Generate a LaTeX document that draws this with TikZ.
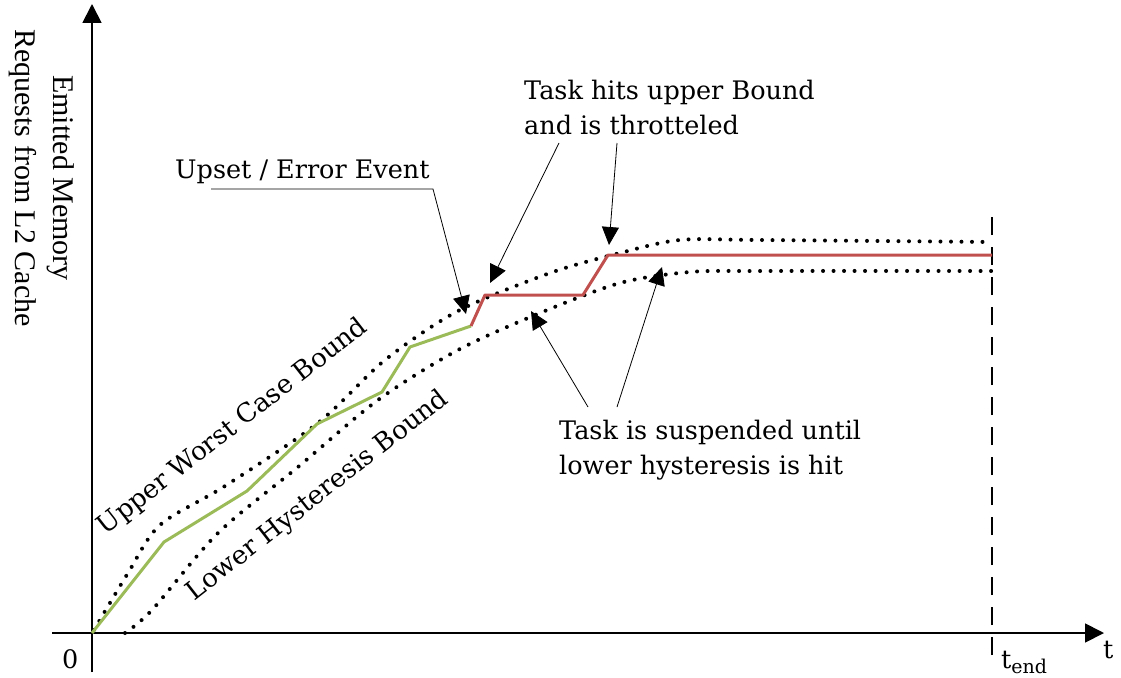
\documentclass[tikz,border=0pt]{standalone}
\usepackage{fontspec}
\setmainfont{DejaVu Serif}
\newfontfamily\timesf{Liberation Serif}
\usetikzlibrary{arrows.meta}
\definecolor{cred}{HTML}{C0504D}
\definecolor{cgreen}{HTML}{9BBB59}
\begin{document}
\begin{tikzpicture}[x=1pt,y=-1pt,
  axis/.style={line width=1.8pt,-{Triangle[length=19pt,width=19pt]}},
  dotline/.style={line width=4pt,line cap=round,dash pattern=on 0pt off 10.5pt},
  callout/.style={line width=0.8pt,-{Triangle[length=18pt,width=17pt]}},
  lbl/.style={font=\fontsize{25.5}{35}\selectfont,inner sep=0pt,align=left},
  rlbl/.style={font=\fontsize{26}{30}\selectfont,inner sep=0pt,rotate=38},
  task/.style={line width=3pt,line join=round}]
\useasboundingbox (0,0) rectangle (1121,677);
% axes
\coordinate (xs) at (52,633);
\coordinate (xe) at (1104,633);
\coordinate (ys) at (92,672);
\coordinate (ye) at (92,4);
\draw[axis] (xs) -- (xe);
\draw[axis] (ys) -- (ye);
\node[lbl,anchor=base west] (zero) at (62,668) {0};
\node[lbl,anchor=base west] (tlab) at (1103,658) {t};
\node[lbl,anchor=base west] (tend) at (1001,668) {t\raisebox{-0.22em}{\fontsize{19}{19}\selectfont end}};
\node[font=\timesf\fontsize{30}{38}\selectfont,align=center,rotate=-90,inner sep=0pt] (ylab) at (42,178) {Emitted Memory\\Requests from L2 Cache};
% end line
\coordinate (e1) at (992,217);
\coordinate (e2) at (992,655);
\draw[line width=2.4pt,dash pattern=on 18pt off 12pt] (e2) -- (e1);
% bounds
\draw[dotline] plot[smooth,tension=0.5] coordinates {(94,630) (128,573) (160,525) (225,486) (318,423) (385,360) (458,311) (550,273) (620,253) (680,240) (760,240) (992,242)};
\draw[dotline] plot[smooth,tension=0.5] coordinates {(125,633) (152,610) (218,533) (298,467) (378,400) (458,350) (540,313) (620,283) (690,272) (760,271) (992,271)};
% task curve
\coordinate (g0) at (92,633);
\coordinate (g1) at (164,542);
\coordinate (g2) at (247,491);
\coordinate (g3) at (317,424);
\coordinate (g4) at (382,392);
\coordinate (g5) at (410,347);
\coordinate (g6) at (471,326);
\coordinate (r1) at (485,295);
\coordinate (r2) at (583,295);
\coordinate (r3) at (608,255);
\coordinate (r4) at (992,255);
\draw[task,cgreen] (g0) -- (g1) -- (g2) -- (g3) -- (g4) -- (g5) -- (g6);
\draw[task,cred] (g6) -- (r1) -- (r2) -- (r3) -- (r4);
% labels
\node[rlbl] (upper) at (233,427) {Upper Worst Case Bound};
\node[rlbl] (lower) at (318,496) {Lower Hysteresis Bound};
\node[lbl,anchor=base west] (upset) at (175,178) {Upset / Error Event};
\node[lbl,anchor=base west] (thr) at (524,134) {Task hits upper Bound\\and is throtteled};
\node[lbl,anchor=base west] (susp) at (559,474) {Task is suspended until\\lower hysteresis is hit};
% callouts
\coordinate (u1) at (211,189);
\coordinate (u2) at (433,189);
\coordinate (uT) at (466,314);
\draw[callout] (u1) -- (u2) -- (uT);
\coordinate (t1) at (559,143);
\coordinate (t1T) at (490,283);
\coordinate (t2) at (617,143);
\coordinate (t2T) at (609,245);
\draw[callout] (t1) -- (t1T);
\draw[callout] (t2) -- (t2T);
\coordinate (s1) at (588,407);
\coordinate (s1T) at (531,311);
\coordinate (s2) at (617,407);
\coordinate (s2T) at (662,267);
\draw[callout] (s1) -- (s1T);
\draw[callout] (s2) -- (s2T);
\end{tikzpicture}
\end{document}
